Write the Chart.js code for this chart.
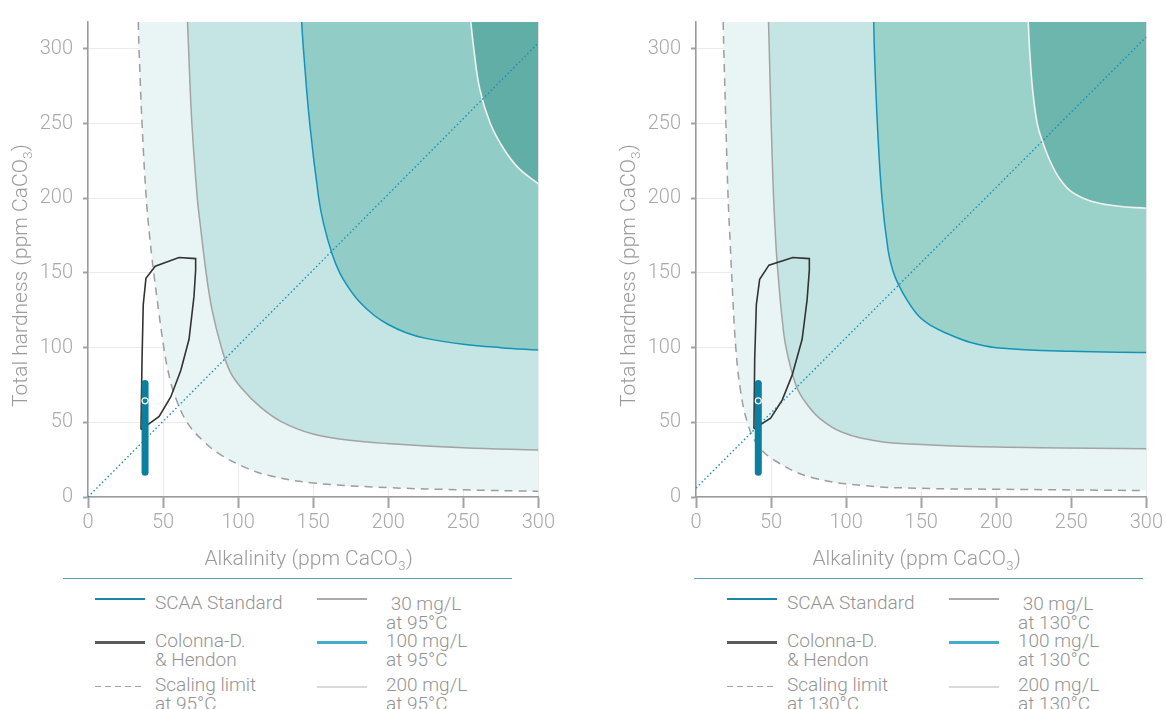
<!DOCTYPE html>
<html>
<head>
<meta charset="utf-8">
<script src="https://cdn.jsdelivr.net/npm/chart.js@4.4.0/dist/chart.umd.min.js"></script>
<style>
  body { margin: 0; background: #fff; font-family: Roboto, sans-serif; }
  #page { position: relative; width: 1166px; height: 709px; overflow: hidden; }
  .box { position: absolute; top: 0; }
  .sep { position: absolute; top: 578px; height: 0; border-top: 1.5px solid #58a4b6; }
  .lg-line { position: absolute; width: 50px; }
  .lg-text { position: absolute; font-size: 19px; line-height: 19px; color: #939393; white-space: pre; font-weight: 300; }
</style>
</head>
<body>
<div id="page">
  <div class="box" style="left:0"><canvas id="chart95" width="558" height="580"></canvas></div>
  <div class="box" style="left:608px"><canvas id="chart130" width="558" height="580"></canvas></div>
  <div class="sep" style="left:63px;width:449px"></div>
  <div class="sep" style="left:694px;width:449px"></div>
  <div id="legend95"></div>
  <div id="legend130"></div>
</div>
<script>
// axes (ppm CaCO3)
const xTicks = [0, 50, 100, 150, 200, 250, 300];
const yTicks = [0, 50, 100, 150, 200, 250, 300];
const xTitle = ['Alkalinity (ppm CaCO', '3', ')'];
const yTitle = ['Total hardness (ppm CaCO', '3', ')'];

// 95°C panel, [alkalinity, hardness]
const labels95 = ['SCAA Standard', 'Colonna-D.\n& Hendon', 'Scaling limit\nat 95°C', ' 30 mg/L\nat 95°C', '100 mg/L\nat 95°C', '200 mg/L\nat 95°C'];
const scaa95 = [[38, 16.5], [38, 76]];
const target95 = [[38, 64.4]];
const colonna95 = [[35.3, 45.1], [36, 92.4], [36.8, 128.8], [38.6, 146.4], [44.8, 154.5], [60.6, 160.3], [71.7, 159.6], [71.7, 151.9], [70.6, 134.3], [67.3, 105.6], [61.8, 84.7], [55.2, 67.1], [47.4, 53.9], [35.3, 45.1]];
const diag95 = [[0, 0], [300, 304]];
const scaling95 = [[33.5, 318], [34, 300], [36, 250], [38.8, 200], [41, 175], [42.6, 160], [43.8, 150], [47, 125], [50.5, 100], [53.4, 84], [57.8, 68], [66, 50], [77, 37.3], [88, 28.5], [105, 19.7], [120, 14.5], [150, 9.4], [200, 6.3], [250, 4.8], [300, 3.8]];
const mg30_95 = [[66.3, 318], [67, 300], [69.2, 250], [72.8, 200], [74.7, 183], [78.7, 150], [82.7, 125], [88.9, 100], [94.8, 83.6], [102.5, 72.6], [114.7, 60.3], [129, 50.3], [149.3, 42.3], [170, 38.5], [199, 35.8], [250, 32.9], [300, 31.4]];
const mg100_95 = [[142.3, 318], [143.5, 300], [147.7, 250], [153.7, 200], [157, 182.7], [162.5, 163], [167.6, 150.2], [173, 141], [180.5, 131], [190.7, 121.5], [200, 115.5], [212, 110], [225, 106.2], [250, 102.3], [275, 100], [300, 98.4]];
const mg200_95 = [[255, 318], [257, 300], [261, 273], [268, 250], [277, 233], [287, 220], [300, 209.6]];

// 130°C panel
const labels130 = ['SCAA Standard', 'Colonna-D.\n& Hendon', 'Scaling limit\nat 130°C', ' 30 mg/L\nat 130°C', '100 mg/L\nat 130°C', '200 mg/L\nat 130°C'];
const scaa130 = [[41.5, 16.5], [41.5, 76]];
const target130 = [[41.5, 64.4]];
const colonna130 = [[38.6, 45.7], [39.1, 92.4], [40.2, 128.8], [42.4, 145.7], [48.6, 155.2], [64.5, 160.3], [75.5, 159.6], [75.5, 151.9], [74, 132], [70.7, 105.6], [64, 81.4], [57.4, 64.9], [49.7, 52.7], [38.6, 45.7]];
const diag130 = [[0, 6], [300, 308]];
const scaling130 = [[18.1, 318], [18.5, 300], [19.9, 250], [21.4, 200], [23.1, 163], [23.7, 150], [26.5, 100], [29.8, 70.4], [34.2, 50], [40.8, 35.1], [53, 24.1], [77, 13.1], [112.7, 7.6], [150, 5.8], [200, 5.2], [300, 4.3]];
const mg30_130 = [[48.3, 318], [48.8, 300], [50.1, 250], [51.7, 200], [53.6, 163], [54.6, 150], [57.3, 120], [60, 100], [66.5, 75], [72.5, 64], [82, 53], [97, 43.5], [121.5, 37.3], [150, 35.2], [200, 33.4], [300, 32.3]];
const mg100_130 = [[118.4, 318], [118.8, 300], [120.8, 250], [123.9, 200], [128, 165], [131, 152], [134.5, 143], [140.5, 132], [148.5, 121], [157, 114.5], [166, 110], [183, 103.4], [200, 100], [250, 97.5], [300, 96.8]];
const mg200_130 = [[221.3, 318], [222.2, 300], [224.2, 273], [227.3, 250], [230.8, 238], [236, 224.6], [241.9, 213.6], [249.6, 204.8], [262.8, 198.2], [280.5, 194.8], [300, 193.3]];

const pts = a => a.map(([x, y]) => ({ x, y }));

// draws "text + subscript + text" centred on (cx, cy)
function drawSub(ctx, parts, cx, cy) {
    const big = '300 21px Roboto', small = '300 13px Roboto';
    ctx.font = big;
    const w1 = ctx.measureText(parts[0]).width, w3 = ctx.measureText(parts[2]).width;
    ctx.font = small;
    const w2 = ctx.measureText(parts[1]).width;
    let x = cx - (w1 + w2 + w3) / 2;
    const base = cy + 7.5;
    ctx.textAlign = 'left';
    ctx.textBaseline = 'alphabetic';
    ctx.font = big;
    ctx.fillText(parts[0], x, base);
    ctx.font = small;
    ctx.fillText(parts[1], x + w1 + 0.5, base + 5);
    ctx.font = big;
    ctx.fillText(parts[2], x + w1 + w2 + 1, base);
}

const axisTitles = {
    id: 'axisTitles',
    afterDraw(chart) {
        const ctx = chart.ctx, a = chart.chartArea;
        ctx.save();
        ctx.fillStyle = '#9b9b9b';
        drawSub(ctx, xTitle, (a.left + a.right) / 2 - 5, 557);
        ctx.translate(19.5, 276);
        ctx.rotate(-Math.PI / 2);
        drawSub(ctx, yTitle, 0, 0);
        ctx.restore();
    }
};

function line(label, data, color, width, order, extra) {
    return Object.assign({
        label: label, data: pts(data), showLine: true, borderColor: color, borderWidth: width,
        pointRadius: 0, order: order, fill: false
    }, extra || {});
}

function waterChart(id, d) {

    let el = document.getElementById(id)

    return new Chart(el, {
        type: 'scatter',
        data: {
            datasets: [
                line(d.labels[0], d.scaa, '#0b7fa0', 7, 2, { borderCapStyle: 'round' }),
                { data: pts(d.target), pointRadius: 3, pointBackgroundColor: '#0b7fa0', pointBorderColor: '#fff', pointBorderWidth: 1.2, order: 1 },
                line(d.labels[1], d.colonna, '#333', 1.6, 3),
                line('', d.diag, '#1b8db3', 1.4, 4, { borderDash: [1.5, 2.5] }),
                line(d.labels[2], d.scaling, '#9d9d9d', 1.5, 40, { borderDash: [8, 6], fill: 'end', backgroundColor: d.fills[0], tension: 0.4 }),
                line(d.labels[3], d.mg30, '#a3a3a3', 1.5, 30, { fill: 'end', backgroundColor: d.fills[1], tension: 0.4 }),
                line(d.labels[4], d.mg100, '#1493b9', 1.5, 20, { fill: 'end', backgroundColor: d.fills[2], tension: 0.4 }),
                line(d.labels[5], d.mg200, '#f2f2f2', 1.6, 10, { fill: 'end', backgroundColor: d.fills[3], tension: 0.4 })
            ]
        },
        plugins: [axisTitles],
        options: {
            responsive: false,
            animation: false,
            events: [],
            layout: { padding: { top: 16, right: 16, left: 0, bottom: 0 } },
            plugins: { legend: { display: false }, tooltip: { enabled: false } },
            scales: {
                x: {
                    type: 'linear', min: 0, max: 300, z: 1,
                    afterBuildTicks: s => { s.ticks = xTicks.map(v => ({ value: v })) },
                    afterFit: s => { s.height = 83 },
                    grid: { color: 'rgba(0,0,0,0.08)', lineWidth: 1, tickColor: '#a3a3a3', tickWidth: 2, tickLength: 11 },
                    border: { color: '#9a9a9a', width: 1.5 },
                    ticks: { color: '#a9a9a9', padding: 3, font: { size: 20, weight: 300 } }
                },
                y: {
                    type: 'linear', min: 0, max: 318, z: 1,
                    afterBuildTicks: s => { s.ticks = yTicks.map(v => ({ value: v })) },
                    afterFit: s => { s.width = 88 },
                    grid: { color: 'rgba(0,0,0,0.08)', lineWidth: 1, tickColor: '#a3a3a3', tickWidth: 2, tickLength: 5 },
                    border: { color: '#9a9a9a', width: 1.5 },
                    ticks: { color: '#a9a9a9', padding: 10, font: { size: 20, weight: 300 } }
                }
            }
        }
    });
}

// legend under each panel, built from the dataset labels
function htmlLegend(id, chart, x0) {
    const look = [
        { c: '#1a87a8', w: 2 }, { c: '#5a5a5a', w: 3 }, { c: '#a5a5a5', w: 1.5, dash: true },
        { c: '#aaaaaa', w: 2 }, { c: '#45abc8', w: 3 }, { c: '#dadada', w: 2 }
    ];
    const lineY = [599.3, 642.7, 686.7];
    const textTop = [[592.5, 631, 674.5], [594, 631, 674.5]];
    const labels = chart.data.datasets.map(ds => ds.label).filter(l => l);
    let html = '';
    labels.forEach((lab, i) => {
        const col = Math.floor(i / 3), row = i % 3, L = look[i];
        const lx = x0 + col * 222;
        const bg = L.dash ? `repeating-linear-gradient(90deg, ${L.c} 0 6px, transparent 6px 10px)` : L.c;
        html += `<div class="lg-line" style="left:${lx}px;top:${lineY[row] - L.w / 2}px;height:${L.w}px;background:${bg}"></div>`;
        html += `<div class="lg-text" style="left:${lx + (col ? 69 : 60)}px;top:${textTop[col][row]}px">${lab.replace('\n', '<br>')}</div>`;
    });
    document.getElementById(id).innerHTML = html;
}

Chart.defaults.font.family = 'Roboto';

const c95 = waterChart('chart95', {
    labels: labels95, scaa: scaa95, target: target95, colonna: colonna95, diag: diag95,
    scaling: scaling95, mg30: mg30_95, mg100: mg100_95, mg200: mg200_95,
    fills: ['#e9f5f5', '#c4e5e3', '#91cdc6', '#61aea7']
});
const c130 = waterChart('chart130', {
    labels: labels130, scaa: scaa130, target: target130, colonna: colonna130, diag: diag130,
    scaling: scaling130, mg30: mg30_130, mg100: mg100_130, mg200: mg200_130,
    fills: ['#e9f5f5', '#c4e5e3', '#9ad2ca', '#6db6ae']
});
htmlLegend('legend95', c95, 95);
htmlLegend('legend130', c130, 727);
</script>
</body>
</html>
